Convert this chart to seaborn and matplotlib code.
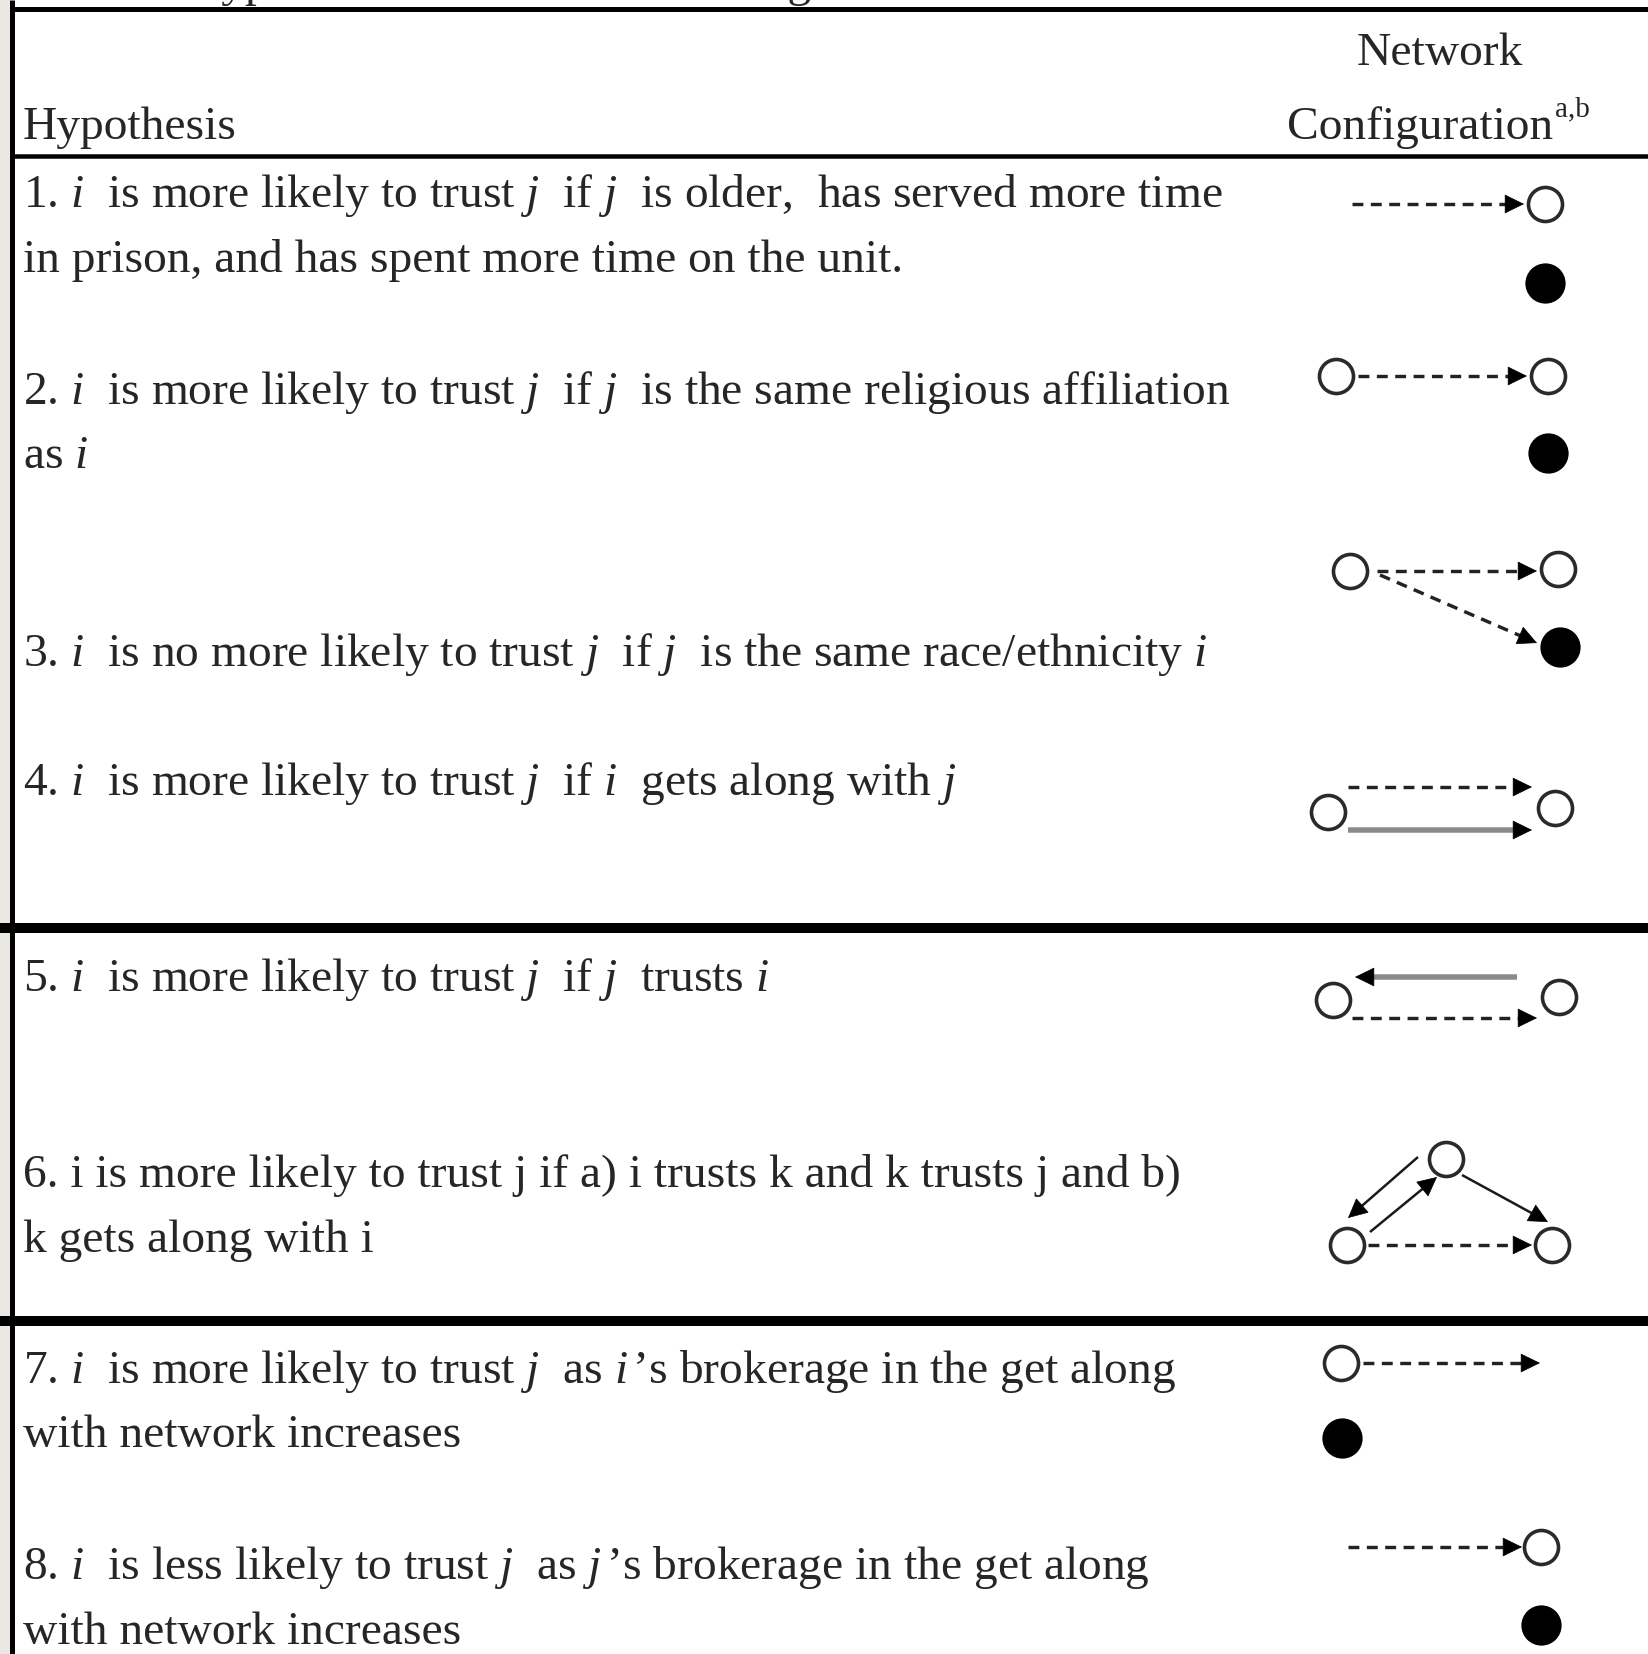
import numpy as np
import pandas as pd
import seaborn as sns
import matplotlib.pyplot as plt

# canvas in pixel units (x to the right, y downward)
W, H = 1649, 1654

title = 'Table 1. Hypotheses and Network Configurations'
header_left = 'Hypothesis'
header_right = ['Network', 'Configuration']
header_note = 'a,b'

# hypothesis text lines: (baseline y, text)
hyp_y = [207, 272, 404, 468, 666, 795, 991, 1187, 1252, 1383, 1447, 1579, 1644]
hyp_text = [
    r'1. $i$  is more likely to trust $j$  if $j$  is older,  has served more time',
    'in prison, and has spent more time on the unit.',
    r'2. $i$  is more likely to trust $j$  if $j$  is the same religious affiliation',
    r'as $i$',
    r'3. $i$  is no more likely to trust $j$  if $j$  is the same race/ethnicity $i$',
    r'4. $i$  is more likely to trust $j$  if $i$  gets along with $j$',
    r'5. $i$  is more likely to trust $j$  if $j$  trusts $i$',
    '6. i is more likely to trust j if a) i trusts k and k trusts j and b)',
    'k gets along with i',
    r'7. $i$  is more likely to trust $j$  as $i\,$’s brokerage in the get along',
    'with network increases',
    r'8. $i$  is less likely to trust $j$  as $j\,$’s brokerage in the get along',
    'with network increases',
]

# network nodes
node_x = [1545, 1545, 1336, 1548, 1548, 1350, 1558, 1560, 1328, 1555,
          1333, 1559, 1446, 1347, 1552, 1341, 1342, 1541, 1541]
node_y = [204, 283, 376, 376, 453, 571, 569, 647, 812, 808,
          1000, 997, 1159, 1245, 1245, 1363, 1438, 1547, 1625]
node_fill = ['open', 'filled', 'open', 'open', 'filled', 'open', 'open', 'filled', 'open', 'open',
             'open', 'open', 'open', 'open', 'open', 'open', 'filled', 'open', 'filled']

# network ties: start x, start y, tip x, tip y, kind
tie_x0 = [1352, 1358, 1377, 1380, 1348, 1348, 1517, 1352, 1418, 1370, 1462, 1368, 1363, 1348]
tie_y0 = [204, 376, 571, 575, 787, 830, 977, 1018, 1157, 1232, 1175, 1245, 1363, 1547]
tie_x1 = [1524, 1527, 1537, 1537, 1532, 1532, 1355, 1537, 1348, 1437, 1548, 1532, 1540, 1522]
tie_y1 = [204, 376, 571, 643, 787, 830, 977, 1018, 1218, 1177, 1222, 1245, 1363, 1547]
tie_kind = ['dash', 'dash', 'dash', 'dash', 'dash', 'grey', 'grey', 'dash',
            'solid', 'solid', 'solid', 'dash', 'dash', 'dash']

# horizontal rules: y, thickness (px), left start
rule_y = [8.5, 155.5, 928, 1321]
rule_w = [5, 4.5, 10, 10]
rule_x0 = [12, 12, 0, 0]

sns.set_theme(style='white')
plt.rcParams['font.family'] = ['Liberation Serif', 'DejaVu Serif']
plt.rcParams['mathtext.fontset'] = 'custom'
plt.rcParams['mathtext.rm'] = 'Liberation Serif'
plt.rcParams['mathtext.it'] = 'Liberation Serif:italic'

PX = 72 / 100  # points per pixel at dpi 100
fs = 34.2

fig = plt.figure(figsize=(W / 100, H / 100), dpi=100)
ax = fig.add_axes([0, 0, 1, 1])
ax.set_xlim(0, W)
ax.set_ylim(H, 0)
ax.axis('off')

# page edge on the left + table frame
ax.axvspan(0, 9.5, color='#ebe7e2', zorder=0)
ax.vlines(11.7, 0, H, color='black', lw=5 * PX)
for y, w, x0 in zip(rule_y, rule_w, rule_x0):
    ax.hlines(y, x0, W, color='black', lw=w * PX)

# cut-off title above the table
ax.text(23, -4, title, fontsize=fs, va='baseline', ha='left', clip_on=False)

# headers
ax.text(23, 139, header_left, fontsize=fs, va='baseline', ha='left')
ax.text(1440, 65, header_right[0], fontsize=fs, va='baseline', ha='center')
conf = ax.text(1287, 139, header_right[1], fontsize=fs, va='baseline', ha='left')
ax.annotate(header_note, xy=(1.0, 1.0), xycoords=conf, xytext=(1, 7),
            textcoords='offset points', fontsize=21, va='top', ha='left')

for y, t in zip(hyp_y, hyp_text):
    ax.text(23, y, t, fontsize=fs, va='baseline', ha='left')

# ties
dash_col = '#222222'
for x0, y0, x1, y1, kind in zip(tie_x0, tie_y0, tie_x1, tie_y1, tie_kind):
    d = np.array([x1 - x0, y1 - y0], dtype=float)
    d /= np.hypot(*d)
    bx, by = x1 - d[0] * 12, y1 - d[1] * 12
    if kind == 'dash':
        ax.plot([x0, bx], [y0, by], color=dash_col, lw=3.4 * PX, dashes=(3.2, 2.2),
                solid_capstyle='butt', dash_capstyle='butt', zorder=2)
    elif kind == 'grey':
        ax.plot([x0, bx], [y0, by], color='#8a8a8a', lw=5.5 * PX,
                solid_capstyle='butt', zorder=2)
    else:
        ax.plot([x0, bx], [y0, by], color='#1a1a1a', lw=2.5 * PX,
                solid_capstyle='butt', zorder=2)
    ax.annotate('', xy=(x1, y1), xytext=(bx - d[0] * 2, by - d[1] * 2),
                arrowprops=dict(arrowstyle='-|>,head_length=0.65,head_width=0.32',
                                mutation_scale=20, color='black', lw=0.5,
                                shrinkA=0, shrinkB=0), zorder=3)

# nodes
nodes = pd.DataFrame({'x': node_x, 'y': node_y, 'fill': node_fill})
sns.scatterplot(data=nodes[nodes['fill'] == 'open'], x='x', y='y', ax=ax,
                s=600, color='white', edgecolor='#2a2a2a', linewidth=2.6,
                zorder=4, legend=False)
sns.scatterplot(data=nodes[nodes['fill'] == 'filled'], x='x', y='y', ax=ax,
                s=840, color='black', edgecolor='black', linewidth=0,
                zorder=4, legend=False)
ax.set_xlim(0, W)
ax.set_ylim(H, 0)
ax.axis('off')

fig.savefig('out.png', dpi=100)
